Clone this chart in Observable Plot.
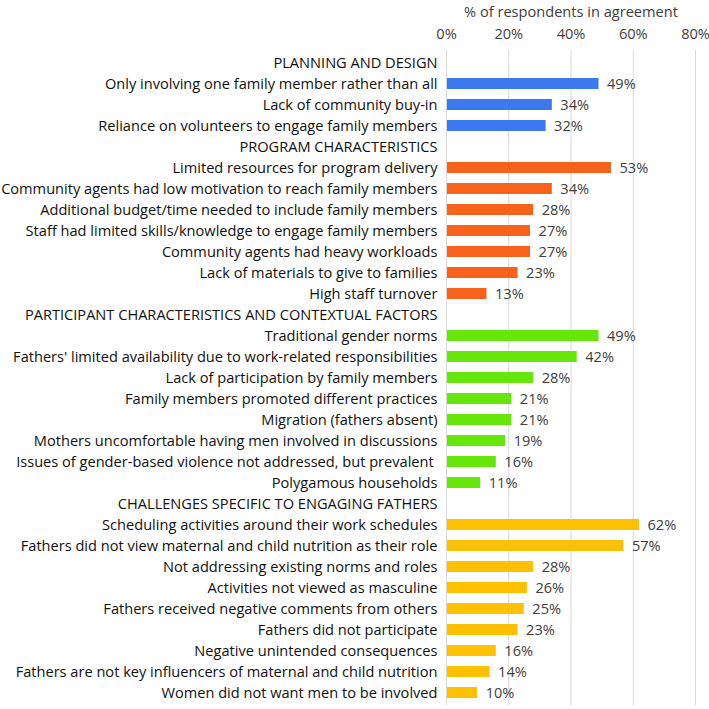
<!DOCTYPE html>
<html><head><meta charset="utf-8">
<script src="https://cdn.jsdelivr.net/npm/d3@7"></script>
<script src="https://cdn.jsdelivr.net/npm/@observablehq/plot@0.6"></script>
<style>body{margin:0;background:#fff}</style>
</head><body><div id="chart"></div>
<script>
const headers = ["PLANNING AND DESIGN","PROGRAM CHARACTERISTICS","PARTICIPANT CHARACTERISTICS AND CONTEXTUAL FACTORS","CHALLENGES SPECIFIC TO ENGAGING FATHERS"];
const planningLabels = ["Only involving one family member rather than all","Lack of community buy-in","Reliance on volunteers to engage family members"];
const planningValues = [49,34,32];
const programLabels = ["Limited resources for program delivery","Community agents had low motivation to reach family members","Additional budget/time needed to include family members","Staff had limited skills/knowledge to engage family members","Community agents had heavy workloads","Lack of materials to give to families","High staff turnover"];
const programValues = [53,34,28,27,27,23,13];
const participantLabels = ["Traditional gender norms","Fathers' limited availability due to work-related responsibilities","Lack of participation by family members","Family members promoted different practices","Migration (fathers absent)","Mothers uncomfortable having men involved in discussions","Issues of gender-based violence not addressed, but prevalent\u00a0","Polygamous households"];
const participantValues = [49,42,28,21,21,19,16,11];
const fathersLabels = ["Scheduling activities around their work schedules","Fathers did not view maternal and child nutrition as their role","Not addressing existing norms and roles","Activities not viewed as masculine","Fathers received negative comments from others","Fathers did not participate","Negative unintended consequences","Fathers are not key influencers of maternal and child nutrition","Women did not want men to be involved"];
const fathersValues = [62,57,28,26,25,23,16,14,10];
const groupColors = ["#3c78f0","#f9621a","#66e60a","#ffc000"];
const xTicks = [0,20,40,60,80];
const xTitle = "% of respondents in agreement";

const groupLabels = [planningLabels, programLabels, participantLabels, fathersLabels];
const groupValues = [planningValues, programValues, participantValues, fathersValues];
const domain = [];
const data = [];
groupLabels.forEach((labs, g) => {
  domain.push(headers[g]);
  labs.forEach((l, i) => { domain.push(l); data.push({label: l, value: groupValues[g][i], group: headers[g]}); });
});

const chart = Plot.plot({
  width: 709, height: 709,
  marginLeft: 446, marginRight: 14, marginTop: 50, marginBottom: 4,
  style: {fontFamily: "'Open Sans', sans-serif", fontSize: "14.6px", color: "#222"},
  x: {domain: [0,80]},
  y: {domain, paddingInner: 0.5, paddingOuter: 0.1},
  color: {domain: headers, range: groupColors},
  marks: [
    Plot.gridX(xTicks, {stroke: "#d9d9d9", strokeOpacity: 1}),
    Plot.axisX({anchor: "top", ticks: xTicks, tickFormat: d => d + "%", tickSize: 0, tickPadding: 12, fill: "#404040", label: null}),
    Plot.text([xTitle], {frameAnchor: "top", dy: -38, lineAnchor: "middle", fill: "#404040", text: d => d}),
    Plot.axisY({tickSize: 0, tickPadding: 9, label: null, fill: "#111"}),
    Plot.barX(data, {x: "value", y: "label", fill: "group", insetLeft: 1}),
    Plot.text(data, {x: "value", y: "label", text: d => d.value + "%", textAnchor: "start", dx: 8, fill: "#404040"})
  ]
});
document.getElementById("chart").append(chart);
</script></body></html>
